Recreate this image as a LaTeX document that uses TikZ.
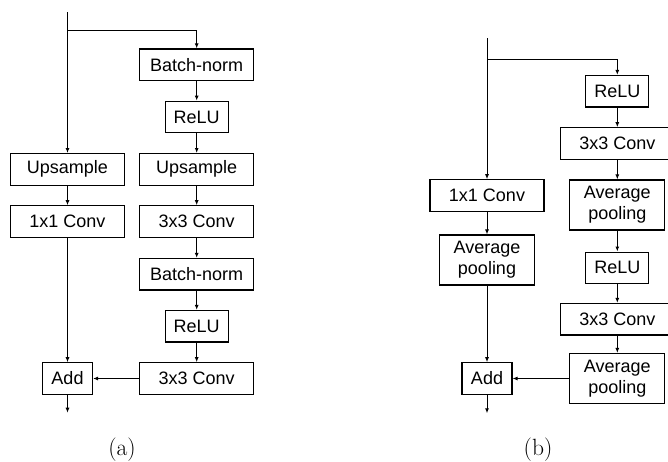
\documentclass[tikz,border=0pt]{standalone}
\usepackage{fontspec}
\setsansfont{Liberation Sans}
\usetikzlibrary{arrows.meta}
\begin{document}
\begin{tikzpicture}[x=1pt,y=-1pt,
  box/.style={draw, line width=1.1pt, inner sep=0pt, align=center,
    font=\sffamily\fontsize{18}{21}\selectfont, minimum height=31.5pt},
  wide/.style={box, minimum width=114pt},
  narrow/.style={box, minimum width=63pt},
  addbox/.style={box, minimum width=50pt},
  pool/.style={box, minimum width=95pt, minimum height=50pt},
  conn/.style={line width=1pt, -{Latex[length=5pt,width=4pt]}},
  plain/.style={line width=1pt},
  sublabel/.style={font=\fontsize{23.5}{28}\selectfont}]
\useasboundingbox (0,0) rectangle (668,461);
% ---------------- (a)
\node[wide]   (abn1)   at (196.7,64.7)  {Batch-norm};
\node[narrow] (arelu1) at (196.7,116.9) {ReLU};
\node[wide]   (aupl)   at (67.5,169.3)  {Upsample};
\node[wide]   (aupr)   at (196.7,169.3) {Upsample};
\node[wide]   (aconvl) at (67.5,221.5)  {1x1 Conv};
\node[wide]   (aconvr) at (196.7,221.5) {3x3 Conv};
\node[wide]   (abn2)   at (196.7,274.2) {Batch-norm};
\node[narrow] (arelu2) at (196.7,326.2) {ReLU};
\node[wide]   (aconv3) at (196.7,378.5) {3x3 Conv};
\node[addbox] (aadd)   at (67.5,378.5)  {Add};
\coordinate (ain)    at (67.5,12);
\coordinate (asplit) at (67.5,30.7);
\coordinate (aout)   at (67.5,412.7);
\draw[plain] (ain) -- (asplit);
\draw[conn] (asplit) -- (aupl);
\draw[conn] (asplit) -| (abn1);
\draw[conn] (abn1) -- (arelu1);
\draw[conn] (arelu1) -- (aupr);
\draw[conn] (aupr) -- (aconvr);
\draw[conn] (aconvr) -- (abn2);
\draw[conn] (abn2) -- (arelu2);
\draw[conn] (arelu2) -- (aconv3);
\draw[conn] (aupl) -- (aconvl);
\draw[conn] (aconvl) -- (aadd);
\draw[conn] (aconv3) -- (aadd);
\draw[conn] (aadd) -- (aout);
\node[sublabel, anchor=base] (la) at (122,455) {(a)};
% ---------------- (b)
\node[narrow] (brelu1) at (617.3,91.2)  {ReLU};
\node[wide]   (bconv1) at (617.3,143.5) {3x3 Conv};
\node[pool]   (bpool1) at (617.3,205)   {Average\\pooling};
\node[narrow] (brelu2) at (617.3,267.8) {ReLU};
\node[wide]   (bconv2) at (617.3,319.2) {3x3 Conv};
\node[pool]   (bpool2) at (617.3,378.5) {Average\\pooling};
\node[wide]   (bconvl) at (487,195.5)   {1x1 Conv};
\node[pool]   (bpooll) at (487,260)     {Average\\pooling};
\node[addbox] (badd)   at (487,378.5)   {Add};
\coordinate (bin)    at (487,38.3);
\coordinate (bsplit) at (487,59);
\coordinate (bout)   at (487,413.3);
\draw[plain] (bin) -- (bsplit);
\draw[conn] (bsplit) -- (bconvl);
\draw[conn] (bsplit) -| (brelu1);
\draw[conn] (brelu1) -- (bconv1);
\draw[conn] (bconv1) -- (bpool1);
\draw[conn] (bpool1) -- (brelu2);
\draw[conn] (brelu2) -- (bconv2);
\draw[conn] (bconv2) -- (bpool2);
\draw[conn] (bconvl) -- (bpooll);
\draw[conn] (bpooll) -- (badd);
\draw[conn] (bpool2) -- (badd);
\draw[conn] (badd) -- (bout);
\node[sublabel, anchor=base] (lb) at (538,455) {(b)};
\end{tikzpicture}
\end{document}
